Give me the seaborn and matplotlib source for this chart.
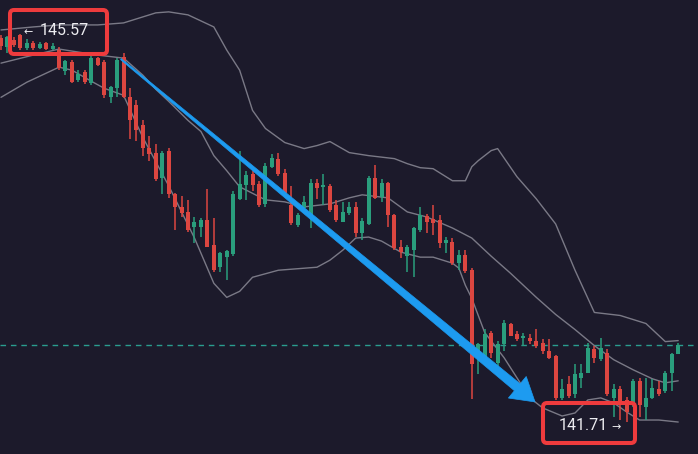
import numpy as np
import pandas as pd
import matplotlib
matplotlib.use("Agg")
import matplotlib.pyplot as plt
import seaborn as sns
from matplotlib.patches import FancyBboxPatch, Polygon
from matplotlib.transforms import IdentityTransform

# --- OHLC candles -----------------------------------------------------------
open_ = [145.53, 145.44, 145.51, 145.56, 145.43, 145.48, 145.43, 145.48, 145.42, 145.41,
         145.20, 145.29, 145.11, 145.19, 145.08, 145.33, 145.29, 144.94, 145.03, 145.34,
         144.94, 144.86, 144.66, 144.44, 144.39, 144.14, 144.41, 143.98, 143.85, 143.80,
         143.65, 143.65, 143.72, 143.47, 143.25, 143.35, 143.38, 143.93, 144.07, 144.18,
         144.08, 143.88, 144.25, 144.33, 144.19, 143.87, 143.67, 143.84, 143.75, 144.09,
         144.05, 144.06, 143.87, 143.70, 143.79, 143.85, 143.59, 143.68, 144.14, 143.95,
         144.09, 143.77, 143.45, 143.36, 143.42, 143.62, 143.76, 143.73, 143.72, 143.49,
         143.50, 143.29, 143.37, 143.22, 142.42, 142.32, 142.60, 142.30, 142.49, 142.69,
         142.59, 142.55, 142.55, 142.52, 142.50, 142.42, 142.37, 141.95, 142.09, 141.99,
         142.15, 142.20, 142.44, 142.34, 142.40, 141.95, 142.04, 141.93, 141.88, 142.12,
         141.86, 141.95, 142.04, 142.02, 142.20, 142.39]
high = [145.56, 145.55, 145.54, 145.57, 145.52, 145.50, 145.49, 145.49, 145.48, 145.44,
        145.31, 145.31, 145.21, 145.21, 145.35, 145.34, 145.31, 145.05, 145.33, 145.38,
        145.03, 144.91, 144.71, 144.56, 144.48, 144.41, 144.44, 143.99, 143.96, 143.92,
        143.75, 143.74, 144.03, 143.74, 143.40, 143.42, 144.01, 144.41, 144.21, 144.21,
        144.11, 144.29, 144.38, 144.39, 144.23, 144.06, 143.79, 143.96, 144.13, 144.13,
        144.18, 144.08, 143.92, 143.90, 143.90, 143.90, 143.74, 144.16, 144.27, 144.13,
        144.10, 143.78, 143.52, 143.47, 143.65, 143.85, 143.78, 143.87, 143.77, 143.55,
        143.54, 143.42, 143.42, 143.24, 142.50, 142.64, 142.62, 142.52, 142.72, 142.70,
        142.62, 142.60, 142.59, 142.64, 142.54, 142.54, 142.38, 142.14, 142.17, 142.29,
        142.29, 142.50, 142.47, 142.55, 142.44, 142.09, 142.07, 141.96, 142.14, 142.15,
        142.15, 142.14, 142.12, 142.22, 142.40, 142.50]
low = [145.41, 145.38, 145.44, 145.41, 145.41, 145.41, 145.42, 145.41, 145.41, 145.21,
       145.16, 145.08, 145.09, 145.07, 145.06, 145.25, 144.93, 144.88, 144.94, 144.93,
       144.53, 144.51, 144.36, 144.31, 144.11, 143.98, 143.94, 143.62, 143.75, 143.60,
       143.49, 143.55, 143.45, 143.20, 143.20, 143.12, 143.36, 143.92, 143.92, 144.01,
       143.85, 143.85, 144.24, 144.16, 143.98, 143.67, 143.65, 143.79, 143.64, 143.93,
       143.87, 143.80, 143.70, 143.70, 143.77, 143.55, 143.52, 143.67, 143.93, 143.90,
       143.65, 143.42, 143.34, 143.20, 143.15, 143.60, 143.59, 143.57, 143.44, 143.39,
       143.27, 143.22, 143.19, 141.94, 142.19, 142.30, 142.35, 142.25, 142.42, 142.57,
       142.52, 142.47, 142.49, 142.45, 142.39, 142.34, 141.93, 141.93, 141.95, 141.95,
       142.05, 142.20, 142.30, 142.32, 141.97, 141.76, 141.73, 141.71, 141.86, 141.76,
       141.73, 141.94, 141.97, 142.00, 142.02, 142.39]
close = [145.45, 145.54, 145.46, 145.43, 145.48, 145.43, 145.47, 145.42, 145.45, 145.23,
         145.30, 145.09, 145.17, 145.09, 145.33, 145.26, 144.96, 145.04, 145.31, 144.94,
         144.71, 144.61, 144.44, 144.38, 144.13, 144.39, 143.98, 143.85, 143.79, 143.62,
         143.70, 143.72, 143.45, 143.22, 143.39, 143.41, 143.98, 144.08, 144.17, 144.07,
         143.87, 144.26, 144.34, 144.18, 143.99, 143.69, 143.77, 143.90, 144.09, 144.04,
         144.07, 143.82, 143.72, 143.80, 143.85, 143.59, 143.71, 144.14, 143.94, 144.09,
         143.77, 143.44, 143.40, 143.45, 143.64, 143.77, 143.70, 143.69, 143.49, 143.52,
         143.29, 143.37, 143.21, 142.29, 142.49, 142.59, 142.40, 142.49, 142.70, 142.57,
         142.54, 142.57, 142.52, 142.47, 142.42, 142.35, 141.95, 142.04, 141.97, 142.19,
         142.20, 142.45, 142.35, 142.45, 141.99, 142.04, 141.91, 141.81, 142.12, 141.88,
         141.95, 142.05, 141.99, 142.20, 142.39, 142.48]

# --- Bollinger bands (candle index, price) ---------------------------------
upper_idx = [0, 5, 9, 15, 19, 24, 26, 29, 33, 35, 37, 39, 41, 44, 47, 49, 51, 54, 57,
             61, 63, 65, 67, 70, 72, 73, 74, 76, 77, 80, 83, 86, 89, 92, 96, 100, 103, 105]
upper = [145.61, 145.64, 145.66, 145.66, 145.68, 145.78, 145.79, 145.76, 145.64, 145.41,
         145.21, 144.81, 144.63, 144.49, 144.43, 144.46, 144.50, 144.39, 144.36, 144.33,
         144.28, 144.24, 144.23, 144.11, 144.11, 144.25, 144.31, 144.41, 144.43, 144.15,
         143.93, 143.68, 143.22, 142.80, 142.77, 142.69, 142.51, 142.52]
middle_idx = [0, 5, 9, 15, 19, 22, 24, 26, 29, 31, 33, 35, 37, 41, 44, 47, 51, 54, 56,
              60, 63, 66, 70, 73, 76, 79, 83, 86, 89, 92, 95, 98, 101, 103, 105]
middle = [145.28, 145.36, 145.42, 145.36, 145.33, 145.16, 145.02, 144.90, 144.71, 144.60,
          144.36, 144.21, 144.05, 143.92, 143.90, 143.85, 143.88, 143.94, 143.97, 143.94,
          143.80, 143.75, 143.64, 143.54, 143.36, 143.19, 142.95, 142.78, 142.63, 142.47,
          142.33, 142.23, 142.14, 142.10, 142.12]
lower_idx = [0, 4, 9, 11, 14, 16, 19, 22, 26, 28, 30, 32, 33, 35, 37, 39, 43, 49, 51, 53,
             55, 57, 59, 62, 65, 67, 70, 71, 72, 73, 75, 78, 82, 84, 87, 89, 91, 93, 95,
             97, 99, 102, 105]
lower = [144.94, 145.09, 145.24, 145.21, 145.10, 145.03, 144.96, 144.54, 144.06, 143.80,
         143.54, 143.24, 143.09, 142.95, 143.01, 143.15, 143.22, 143.25, 143.32, 143.42,
         143.54, 143.55, 143.51, 143.40, 143.35, 143.35, 143.29, 143.24, 143.07, 142.94,
         142.60, 142.35, 141.95, 141.85, 141.77, 141.80, 141.93, 141.95, 141.90, 141.81,
         141.73, 141.73, 141.71]

# Trend arrow drawn over the decline: (candle index, price) at tail and tip
arrow_tail = (18.6, 145.32)
arrow_tip = (82.8, 141.91)

BG = "#1c1a2b"
UP = "#2a9e7d"
DOWN = "#dc4640"
BAND = "#7a7986"
LAST = "#2a9d8f"
BOX = "#ee3b3d"
ARROW = "#1d9bf0"
TXT = "#ececf0"

sns.set_theme(style="dark", rc={"axes.facecolor": BG, "figure.facecolor": BG,
                                "savefig.facecolor": BG})
plt.rcParams["font.family"] = ["Roboto", "DejaVu Sans"]

W, H = 698, 454
fig = plt.figure(figsize=(W / 100, H / 100), dpi=100)
ax = fig.add_axes([0, 0, 1, 1])
ax.set_facecolor(BG)

o = np.array(open_)
c = np.array(close)
h = np.array(high)
l = np.array(low)
x = np.arange(len(c))
colors = np.where(c >= o, UP, DOWN)

# Bands
bands = pd.concat([
    pd.DataFrame({"idx": upper_idx, "price": upper, "band": "upper"}),
    pd.DataFrame({"idx": middle_idx, "price": middle, "band": "middle"}),
    pd.DataFrame({"idx": lower_idx, "price": lower, "band": "lower"}),
])
sns.lineplot(data=bands, x="idx", y="price", units="band", estimator=None,
             color=BAND, linewidth=1.0, ax=ax, zorder=2)

# Last price line
ax.axhline(c[-1], color=LAST, linewidth=1.0, dashes=(4, 3.5), zorder=1)

# Candles: wicks then bodies
ax.vlines(x, l, h, colors=colors, linewidth=1.1, zorder=3)
body_bottom = np.minimum(o, c)
body_h = np.maximum(np.abs(c - o), 0.012)
ax.bar(x, body_h, bottom=body_bottom, width=0.62, color=colors, linewidth=0, zorder=4)

ax.set_xlim(-0.155, 108.07)
ax.set_ylim(141.392, 145.908)
ax.set_xticks([])
ax.set_yticks([])
ax.set_xlabel("")
ax.set_ylabel("")
for s in ax.spines.values():
    s.set_visible(False)
ax.grid(False)

# Tapered trend arrow, built in display space
fig.canvas.draw()
p0 = ax.transData.transform(arrow_tail)
p1 = ax.transData.transform(arrow_tip)
u = (p1 - p0) / np.linalg.norm(p1 - p0)
nrm = np.array([-u[1], u[0]])
head_len, head_half, w0, w1 = 23.0, 14.0, 0.7, 4.5
base = p1 - head_len * u
pts = [p0 + w0 * nrm, base + w1 * nrm, base + head_half * nrm, p1,
       base - head_half * nrm, base - w1 * nrm, p0 - w0 * nrm]
ax.add_patch(Polygon(pts, closed=True, facecolor=ARROW, edgecolor=ARROW,
                     linewidth=0.5, transform=IdentityTransform(), zorder=6,
                     clip_on=False))


def fx(px):
    return px / W


def fy(py):
    return 1 - py / H


# High / low labels with boxes
i_hi = int(np.argmax(h))
i_lo = int(np.argmin(l))
ax.text(fx(24), fy(32.5), "\u2190", transform=ax.transAxes, color=TXT,
        fontsize=8, ha="left", va="center", zorder=8)
ax.text(fx(40), fy(30.5), f"{h[i_hi]:.2f}", transform=ax.transAxes, color=TXT,
        fontsize=11.5, ha="left", va="center", zorder=8)
ax.text(fx(559), fy(425), f"{l[i_lo]:.2f}", transform=ax.transAxes, color=TXT,
        fontsize=11.5, ha="left", va="center", zorder=8)
ax.text(fx(611), fy(427), "\u2192", transform=ax.transAxes, color=TXT,
        fontsize=8, ha="left", va="center", zorder=8)

for (bx0, by0, bx1, by1) in [(10, 10, 107, 54), (543, 403, 635, 443)]:
    ax.add_patch(FancyBboxPatch((bx0, H - by1), bx1 - bx0, by1 - by0,
                                boxstyle="round,pad=0,rounding_size=4",
                                facecolor="none", edgecolor=BOX, linewidth=2.9,
                                transform=IdentityTransform(), zorder=9, clip_on=False))

fig.savefig("out.png", dpi=100, facecolor=BG)
